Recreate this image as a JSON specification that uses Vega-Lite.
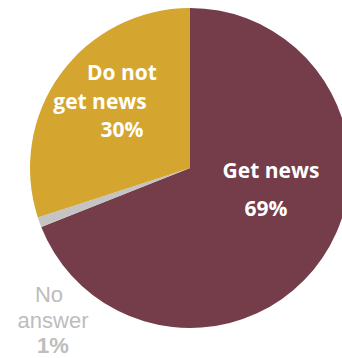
{
  "$schema": "https://vega.github.io/schema/vega-lite/v6.json",
  "width": 304,
  "height": 336,
  "padding": {"left": 38, "top": 0, "right": 0, "bottom": 22},
  "autosize": "none",
  "background": "white",
  "config": {"view": {"stroke": null}, "text": {"font": "Open Sans", "fontSize": 21, "fontWeight": "bold", "baseline": "middle", "align": "center", "fill": "white"}},
  "data": {"values": [
    {"category": "Get news", "share": 69, "order": 1, "line1": "Get news", "line2": "", "pct": "69%"},
    {"category": "No answer", "share": 1, "order": 2, "line1": "No", "line2": "answer", "pct": "1%"},
    {"category": "Do not get news", "share": 30, "order": 3, "line1": "Do not", "line2": "get news", "pct": "30%"}
  ]},
  "layer": [
    {
      "mark": {"type": "arc", "outerRadius": 160},
      "encoding": {
        "theta": {"field": "share", "type": "quantitative", "stack": true},
        "order": {"field": "order", "type": "quantitative"},
        "color": {"field": "category", "type": "nominal", "legend": null,
          "scale": {"domain": ["Get news", "No answer", "Do not get news"], "range": ["#743D49", "#C4C4C4", "#D4A52F"]}}
      }
    },
    {"transform": [{"filter": "datum.category == 'Get news'"}], "mark": {"type": "text", "dx": 81, "dy": 4}, "encoding": {"text": {"field": "line1"}}},
    {"transform": [{"filter": "datum.category == 'Get news'"}], "mark": {"type": "text", "dx": 76, "dy": 42}, "encoding": {"text": {"field": "pct"}}},
    {"transform": [{"filter": "datum.category == 'Do not get news'"}], "mark": {"type": "text", "dx": -68, "dy": -94}, "encoding": {"text": {"field": "line1"}}},
    {"transform": [{"filter": "datum.category == 'Do not get news'"}], "mark": {"type": "text", "dx": -90, "dy": -65}, "encoding": {"text": {"field": "line2"}}},
    {"transform": [{"filter": "datum.category == 'Do not get news'"}], "mark": {"type": "text", "dx": -68, "dy": -37}, "encoding": {"text": {"field": "pct"}}},
    {"transform": [{"filter": "datum.category == 'No answer'"}], "mark": {"type": "text", "dx": -141, "dy": 127, "font": "Liberation Sans", "fontWeight": "normal", "fontSize": 22, "fill": "#BDBDBD"}, "encoding": {"text": {"field": "line1"}}},
    {"transform": [{"filter": "datum.category == 'No answer'"}], "mark": {"type": "text", "dx": -137, "dy": 153, "font": "Liberation Sans", "fontWeight": "normal", "fontSize": 22, "fill": "#BDBDBD"}, "encoding": {"text": {"field": "line2"}}},
    {"transform": [{"filter": "datum.category == 'No answer'"}], "mark": {"type": "text", "dx": -137, "dy": 178, "font": "Liberation Sans", "fontSize": 22, "fill": "#BDBDBD"}, "encoding": {"text": {"field": "pct"}}}
  ]
}
